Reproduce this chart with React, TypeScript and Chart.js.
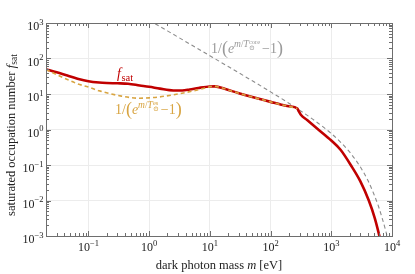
import React, { useEffect, useRef } from "react";
import { Chart, registerables } from "chart.js";

Chart.register(...registerables);

// ---- data ----
const massSat = [0.02, 0.03, 0.045, 0.066, 0.1, 0.15, 0.2, 0.3, 0.45, 0.7, 1, 1.5, 2.5, 3.5, 4.65, 6.5, 10, 12, 18, 30, 50, 100, 150, 200, 276, 290, 315, 400, 630, 1000, 1420, 2200, 3000, 4150, 5200, 6200, 7000];
const fSat = [50, 41, 33, 27, 22.8, 21, 20.4, 20, 19.4, 17.4, 16, 14.2, 12.6, 12.6, 13.4, 14.8, 16.3, 16.4, 13.8, 10.5, 8.2, 6.0, 5.0, 4.5, 3.9, 3.3, 2.6, 1.84, 0.96, 0.49, 0.27, 0.087, 0.035, 0.01, 0.0032, 0.001, 0.0004];

const massEs = [0.02, 0.03, 0.045, 0.066, 0.1, 0.15, 0.233, 0.35, 0.5, 0.7, 1, 1.5, 2.5, 4, 6, 8.5, 10, 12, 18, 30, 50, 100, 150, 200, 276];
const fEs = [49, 35, 25.5, 19.4, 15.7, 12.3, 10.1, 8.7, 7.9, 7.6, 7.8, 8.3, 9.5, 11, 12.8, 14.8, 16.0, 16.4, 13.8, 10.5, 8.2, 6.0, 5.0, 4.5, 3.9];

const massCore = [1, 1.5, 2, 3, 5, 10, 20, 50, 100, 200, 300, 500, 700, 1000, 1500, 2000, 3000, 4000, 5000, 6000, 7000, 8000, 9000];
const fCore = [1199.5, 799.5, 599.5, 399.5, 239.5, 119.5, 59.5, 23.5, 11.5, 5.51, 3.52, 1.93, 1.26, 0.77, 0.4, 0.233, 0.089, 0.037, 0.0155, 0.0068, 0.0029, 0.00127, 0.00055];

const xTickExps = [-1, 0, 1, 2, 3, 4];
const yTickExps = [-3, -2, -1, 0, 1, 2, 3];
const xMin = 0.02;
const xMax = 1e4;
const yMin = 1e-3;
const yMax = 1e3;

const xTitle = ["dark photon mass ", "m", " [eV]"];
const yTitle = ["saturated occupation number ", "f", "sat"];

const FONT = '"Liberation Serif", "Times New Roman", "DejaVu Serif", serif';
const RED = "#c00000";
const ORANGE = "#d8a441";
const GRAY = "#8c8c8c";

type Seg = { t: string; size: number; dy?: number; dx?: number; italic?: boolean; stack?: boolean };

function fontOf(size: number, italic?: boolean) {
  return `${italic ? "italic " : ""}${size}px ${FONT}`;
}

function layoutSegs(ctx: CanvasRenderingContext2D, segs: Seg[]) {
  let x = 0;
  let prevStart = 0;
  let prevEnd = 0;
  const out: { s: Seg; start: number }[] = [];
  for (const s of segs) {
    ctx.font = fontOf(s.size, s.italic);
    const w = ctx.measureText(s.t).width;
    const start = s.stack ? prevStart : x + (s.dx || 0);
    out.push({ s, start });
    const end = start + w;
    if (s.stack) {
      x = Math.max(prevEnd, end);
      prevEnd = x;
    } else {
      prevStart = start;
      prevEnd = end;
      x = end;
    }
  }
  return { out, width: x };
}

function drawSegs(
  ctx: CanvasRenderingContext2D,
  segs: Seg[],
  x: number,
  y: number,
  color: string,
  align: "left" | "center" | "right" = "left"
) {
  const { out, width } = layoutSegs(ctx, segs);
  let x0 = x;
  if (align === "center") x0 = x - width / 2;
  if (align === "right") x0 = x - width;
  ctx.save();
  ctx.fillStyle = color;
  ctx.textAlign = "left";
  ctx.textBaseline = "alphabetic";
  for (const { s, start } of out) {
    ctx.font = fontOf(s.size, s.italic);
    ctx.fillText(s.t, x0 + start, y + (s.dy || 0));
  }
  ctx.restore();
}

function powSegs(e: number): Seg[] {
  const exp = e < 0 ? "\u2212" + String(-e) : String(e);
  return [
    { t: "10", size: 12 },
    { t: exp, size: 8.5, dy: -5.5 },
  ];
}

const decorPlugin = {
  id: "decor",
  afterDraw(chart: any) {
    const ctx: CanvasRenderingContext2D = chart.ctx;
    const { left, right, top, bottom } = chart.chartArea;
    const xs = chart.scales.x;
    const ys = chart.scales.y;

    ctx.save();
    // frame
    ctx.strokeStyle = "#6e6e6e";
    ctx.lineWidth = 1;
    ctx.strokeRect(Math.round(left) + 0.5, Math.round(top) + 0.5, Math.round(right - left), Math.round(bottom - top));

    // inner ticks
    ctx.beginPath();
    for (let d = -2; d <= 4; d++) {
      for (let k = 1; k <= 9; k++) {
        const v = k * Math.pow(10, d);
        if (v < xMin || v > xMax) continue;
        const px = Math.round(xs.getPixelForValue(v)) + 0.5;
        const len = k === 1 ? 5 : 3;
        ctx.moveTo(px, bottom);
        ctx.lineTo(px, bottom - len);
        ctx.moveTo(px, top);
        ctx.lineTo(px, top + len);
      }
    }
    for (let d = -3; d <= 3; d++) {
      for (let k = 1; k <= 9; k++) {
        const v = k * Math.pow(10, d);
        if (v < yMin || v > yMax) continue;
        const py = Math.round(ys.getPixelForValue(v)) + 0.5;
        const len = k === 1 ? 5 : 3;
        ctx.moveTo(left, py);
        ctx.lineTo(left + len, py);
        ctx.moveTo(right, py);
        ctx.lineTo(right - len, py);
      }
    }
    ctx.stroke();
    ctx.restore();

    // tick labels
    for (const e of xTickExps) {
      const px = xs.getPixelForValue(Math.pow(10, e));
      drawSegs(ctx, powSegs(e), px, bottom + 15, "#222", "center");
    }
    for (const e of yTickExps) {
      const py = ys.getPixelForValue(Math.pow(10, e));
      drawSegs(ctx, powSegs(e), left - 2.5, py + 7, "#222", "right");
    }

    // axis titles
    drawSegs(
      ctx,
      [
        { t: xTitle[0], size: 12.5 },
        { t: xTitle[1], size: 12.5, italic: true },
        { t: xTitle[2], size: 12.5 },
      ],
      (left + right) / 2,
      bottom + 33,
      "#222",
      "center"
    );
    ctx.save();
    ctx.translate(14.5, 135);
    ctx.rotate(-Math.PI / 2);
    drawSegs(
      ctx,
      [
        { t: yTitle[0], size: 12.5 },
        { t: yTitle[1], size: 13.5, italic: true },
        { t: yTitle[2], size: 9.5, dy: 2.5 },
      ],
      0,
      0,
      "#222",
      "center"
    );
    ctx.restore();

    // curve labels
    drawSegs(
      ctx,
      [
        { t: "f", size: 14, italic: true },
        { t: "sat", size: 10.5, dy: 2.5, dx: 0.5 },
      ],
      117,
      78,
      RED
    );
    drawSegs(
      ctx,
      [
        { t: "1/", size: 14 },
        { t: "(", size: 18, dy: 1 },
        { t: "e", size: 14, italic: true },
        { t: "m", size: 9.5, italic: true, dy: -6 },
        { t: "/", size: 9.5, dy: -6 },
        { t: "T", size: 9.5, italic: true, dy: -6 },
        { t: "es", size: 6.5, dy: -9 },
        { t: "\u2299", size: 7, dy: -3, stack: true },
        { t: "\u22121", size: 14, dx: 2 },
        { t: ")", size: 18, dy: 1 },
      ],
      115,
      114,
      ORANGE
    );
    drawSegs(
      ctx,
      [
        { t: "1/", size: 14 },
        { t: "(", size: 18, dy: 1 },
        { t: "e", size: 14, italic: true },
        { t: "m", size: 9.5, italic: true, dy: -6 },
        { t: "/", size: 9.5, dy: -6 },
        { t: "T", size: 9.5, italic: true, dy: -6 },
        { t: "core", size: 6.5, dy: -9 },
        { t: "\u2299", size: 7, dy: -3, stack: true },
        { t: "\u22121", size: 14, dx: 2 },
        { t: ")", size: 18, dy: 1 },
      ],
      211,
      53,
      "#9a9a9a"
    );
  },
};

function pts(xs: number[], ys: number[]) {
  return xs.map((x, i) => ({ x, y: ys[i] }));
}

export default function App() {
  const ref = useRef<HTMLCanvasElement | null>(null);
  useEffect(() => {
    document.body.style.margin = "0";
    const canvas = ref.current;
    if (!canvas) return;
    const chart = new Chart(canvas, {
      type: "line",
      data: {
        datasets: [
          {
            data: pts(massEs, fEs),
            borderColor: ORANGE,
            borderWidth: 1.6,
            borderDash: [4, 3],
            pointRadius: 0,
            cubicInterpolationMode: "monotone",
            fill: false,
            order: 0,
          },
          {
            data: pts(massSat, fSat),
            borderColor: RED,
            borderWidth: 2.6,
            pointRadius: 0,
            cubicInterpolationMode: "monotone",
            fill: false,
            order: 1,
          },
          {
            data: pts(massCore, fCore),
            borderColor: GRAY,
            borderWidth: 1.1,
            borderDash: [4, 3],
            pointRadius: 0,
            cubicInterpolationMode: "monotone",
            fill: false,
            order: 2,
          },
        ],
      },
      options: {
        animation: false,
        responsive: false,
        maintainAspectRatio: false,
        layout: { padding: { left: 46, right: 23, top: 23, bottom: 38 } },
        plugins: { legend: { display: false }, tooltip: { enabled: false } },
        scales: {
          x: {
            type: "logarithmic",
            min: xMin,
            max: xMax,
            ticks: { display: false },
            grid: { color: "#ececec", drawTicks: false },
            border: { display: false },
            afterFit: (s: any) => {
              s.height = 0;
            },
            afterBuildTicks: (s: any) => {
              s.ticks = xTickExps.map((e) => ({ value: Math.pow(10, e) }));
            },
          },
          y: {
            type: "logarithmic",
            min: yMin,
            max: yMax,
            ticks: { display: false },
            grid: { color: "#ececec", drawTicks: false },
            border: { display: false },
            afterFit: (s: any) => {
              s.width = 0;
            },
            afterBuildTicks: (s: any) => {
              s.ticks = yTickExps.map((e) => ({ value: Math.pow(10, e) }));
            },
          },
        },
      },
      plugins: [decorPlugin],
    } as any);
    return () => chart.destroy();
  }, []);
  return <canvas ref={ref} width={415} height={274} style={{ display: "block" }} />;
}
